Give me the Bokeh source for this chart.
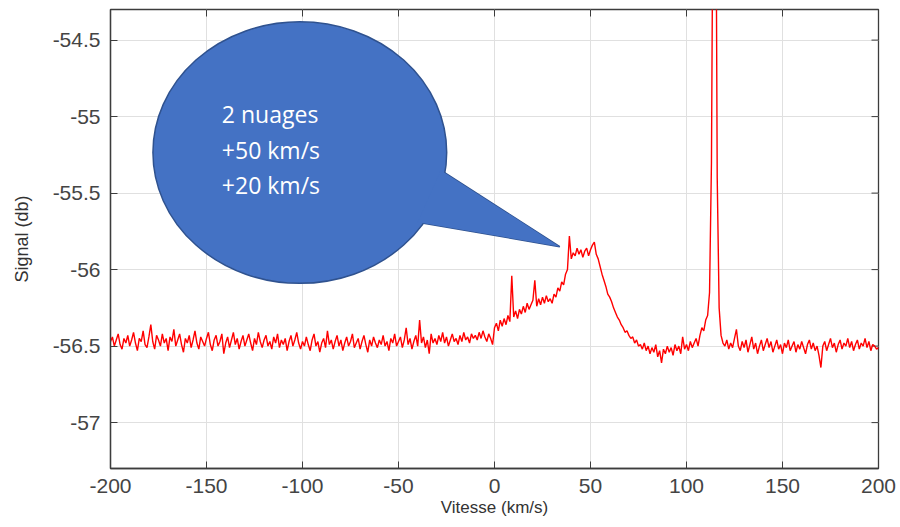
from bokeh.plotting import figure
from bokeh.models import Range1d, FixedTicker, CustomJSTickFormatter, ColumnDataSource
from bokeh.core.properties import value
from bokeh.embed import file_html
from bokeh.resources import INLINE

# ---- data ----
vitesse_start = -200
vitesse_step = 1
signal = [
    -56.47,-56.44,-56.50,-56.46,-56.42,-56.49,-56.52,-56.45,-56.48,-56.43,
    -56.50,-56.46,-56.41,-56.48,-56.53,-56.45,-56.47,-56.40,-56.49,-56.51,
    -56.44,-56.36,-56.47,-56.52,-56.43,-56.46,-56.50,-56.42,-56.48,-56.45,
    -56.53,-56.44,-56.47,-56.39,-56.50,-56.46,-56.42,-56.49,-56.54,-56.45,
    -56.48,-56.43,-56.51,-56.46,-56.40,-56.48,-56.52,-56.44,-56.47,-56.50,
    -56.45,-56.41,-56.49,-56.53,-56.46,-56.43,-56.50,-56.47,-56.42,-56.55,
    -56.48,-56.44,-56.51,-56.46,-56.41,-56.49,-56.45,-56.52,-56.47,-56.43,
    -56.50,-56.46,-56.42,-56.48,-56.53,-56.45,-56.49,-56.41,-56.47,-56.51,
    -56.46,-56.43,-56.50,-56.47,-56.52,-56.44,-56.48,-56.42,-56.51,-56.46,
    -56.49,-56.45,-56.53,-56.47,-56.43,-56.50,-56.46,-56.41,-56.48,-56.52,
    -56.47,-56.50,-56.44,-56.49,-56.53,-56.46,-56.42,-56.50,-56.47,-56.54,
    -56.48,-56.45,-56.51,-56.40,-56.49,-56.46,-56.52,-56.47,-56.43,-56.50,
    -56.46,-56.53,-56.48,-56.44,-56.50,-56.47,-56.42,-56.51,-56.48,-56.45,
    -56.52,-56.47,-56.43,-56.49,-56.54,-56.46,-56.50,-56.44,-56.48,-56.51,
    -56.46,-56.49,-56.43,-56.50,-56.47,-56.53,-56.45,-56.48,-56.42,-56.50,
    -56.47,-56.44,-56.51,-56.46,-56.38,-56.49,-56.45,-56.52,-56.47,-56.43,
    -56.50,-56.33,-56.48,-56.44,-56.51,-56.46,-56.55,-56.42,-56.48,-56.45,
    -56.49,-56.43,-56.47,-56.41,-56.48,-56.44,-56.50,-56.46,-56.42,-56.47,
    -56.45,-56.49,-56.43,-56.47,-56.41,-56.46,-56.44,-56.48,-56.42,-56.45,
    -56.43,-56.46,-56.41,-56.45,-56.40,-56.44,-56.47,-56.42,-56.45,-56.49,
    -56.38,-56.35,-56.40,-56.33,-56.37,-56.32,-56.36,-56.30,-56.34,-56.04,
    -56.31,-56.27,-56.32,-56.26,-56.29,-56.24,-56.28,-56.22,-56.26,-56.23,
    -56.20,-56.07,-56.24,-56.19,-56.23,-56.18,-56.22,-56.17,-56.21,-56.19,
    -56.22,-56.16,-56.18,-56.12,-56.14,-56.08,-56.10,-56.03,-56.00,-55.78,
    -55.93,-55.89,-55.91,-55.86,-55.90,-55.87,-55.92,-55.88,-55.86,-55.91,
    -55.87,-55.84,-55.82,-55.90,-55.93,-55.98,-56.03,-56.07,-56.11,-56.16,
    -56.18,-56.21,-56.25,-56.28,-56.31,-56.33,-56.36,-56.38,-56.41,-56.40,
    -56.43,-56.45,-56.44,-56.48,-56.46,-56.50,-56.49,-56.52,-56.48,-56.53,
    -56.50,-56.55,-56.51,-56.54,-56.49,-56.57,-56.53,-56.61,-56.52,-56.55,
    -56.50,-56.54,-56.51,-56.56,-56.49,-56.53,-56.50,-56.55,-56.44,-56.52,
    -56.49,-56.53,-56.47,-56.51,-56.48,-56.45,-56.50,-56.43,-56.38,-56.40,
    -56.33,-56.30,-56.15,-55.30,-53.00,-52.50,-55.40,-56.25,-56.43,-56.48,
    -56.50,-56.46,-56.52,-56.48,-56.51,-56.45,-56.39,-56.50,-56.53,-56.47,
    -56.51,-56.46,-56.54,-56.49,-56.44,-56.52,-56.48,-56.55,-56.50,-56.46,
    -56.53,-56.49,-56.45,-56.51,-56.47,-56.54,-56.50,-56.46,-56.52,-56.49,
    -56.55,-56.48,-56.51,-56.46,-56.53,-56.50,-56.47,-56.54,-56.49,-56.52,
    -56.47,-56.51,-56.55,-56.49,-56.46,-56.52,-56.48,-56.53,-56.50,-56.56,
    -56.64,-56.50,-56.47,-56.53,-56.49,-56.45,-56.51,-56.48,-56.54,-56.49,
    -56.46,-56.52,-56.48,-56.50,-56.45,-56.51,-56.47,-56.53,-56.49,-56.46,
    -56.52,-56.48,-56.50,-56.45,-56.51,-56.47,-56.53,-56.49,-56.50,-56.52,-56.51,
]
vitesse = [vitesse_start + i * vitesse_step for i in range(len(signal))]

x_ticks = [-200, -150, -100, -50, 0, 50, 100, 150, 200]
y_ticks = [-57, -56.5, -56, -55.5, -55, -54.5]
x_lim = (-200, 200)
y_lim = (-57.3, -54.3)

bubble_lines = ["2 nuages", "+50 km/s", "+20 km/s"]
bubble_center = (-101.4, -55.235)
bubble_size = (153.0, 1.71)
bubble_tail_x = [-28.0, 34.0, -40.0]
bubble_tail_y = [-55.35, -55.85, -55.69]
bubble_text_x = [-142.0, -142.0, -142.0]
bubble_text_y = [-54.985, -55.22, -55.45]

# ---- figure ----
p = figure(width=900, height=527, output_backend="svg", toolbar_location=None,
           x_range=Range1d(*x_lim), y_range=Range1d(*y_lim),
           min_border_left=110, min_border_right=22, min_border_top=9, min_border_bottom=59,
           background_fill_color="white", border_fill_color="white")

axis_col = "#3c3c3c"
p.outline_line_color = axis_col
p.outline_line_width = 1.3

for ax in (p.xaxis[0], p.yaxis[0]):
    ax.major_tick_in = 7
    ax.major_tick_out = 0
    ax.minor_tick_line_color = None
    ax.axis_line_color = axis_col
    ax.axis_line_width = 1.3
    ax.major_tick_line_color = axis_col
    ax.major_label_text_font = "Liberation Sans"
    ax.major_label_text_font_size = "21px"
    ax.major_label_text_color = "#444444"
    ax.axis_label_text_font = "Liberation Sans"
    ax.axis_label_text_font_style = "normal"
    ax.axis_label_text_color = "#333333"

p.xaxis.axis_label_text_font_size = "17px"
p.yaxis.axis_label_text_font_size = "18px"
p.xaxis.ticker = FixedTicker(ticks=x_ticks)
p.yaxis.ticker = FixedTicker(ticks=y_ticks)
p.yaxis.formatter = CustomJSTickFormatter(code="return tick.toString();")
p.xaxis.formatter = CustomJSTickFormatter(code="return tick.toString();")
p.xaxis.axis_label = "Vitesse (km/s)"
p.yaxis.axis_label = "Signal (db)"
p.xaxis.major_label_standoff = 10
p.yaxis.major_label_standoff = 10
p.xaxis.axis_label_standoff = 2
p.yaxis.axis_label_standoff = 18

p.xgrid.ticker = FixedTicker(ticks=x_ticks)
p.ygrid.ticker = FixedTicker(ticks=y_ticks)
p.grid.grid_line_color = "#e0e0e0"
p.grid.grid_line_width = 1

# box ticks on top and right (inward), derived from the tick arrays
tick_dy = (y_lim[1] - y_lim[0]) * 7 / 459
tick_dx = (x_lim[1] - x_lim[0]) * 7 / 768
p.segment(x0=x_ticks, x1=x_ticks, y0=[y_lim[1]] * len(x_ticks), y1=[y_lim[1] - tick_dy] * len(x_ticks),
          line_color=axis_col, line_width=1)
p.segment(x0=[x_lim[1]] * len(y_ticks), x1=[x_lim[1] - tick_dx] * len(y_ticks), y0=y_ticks, y1=y_ticks,
          line_color=axis_col, line_width=1)

src = ColumnDataSource(dict(x=vitesse, y=signal))
p.line("x", "y", source=src, line_color="#ff0000", line_width=1.4)

# speech bubble
fill = "#4472c4"
edge = "#2f528f"
p.patch(bubble_tail_x, bubble_tail_y, fill_color=fill, line_color=edge, line_width=1.5)
p.ellipse(x=[bubble_center[0]], y=[bubble_center[1]], width=[bubble_size[0]], height=[bubble_size[1]],
          fill_color=fill, line_color=edge, line_width=1.5)
p.patch(bubble_tail_x, bubble_tail_y, fill_color=fill, line_color=None)
p.text(x=bubble_text_x, y=bubble_text_y, text=bubble_lines, text_color="white",
       text_font=value("Open Sans"), text_font_size="23px", text_baseline="alphabetic",
       text_align="left")

open("out.html", "w").write(file_html(p, INLINE))
